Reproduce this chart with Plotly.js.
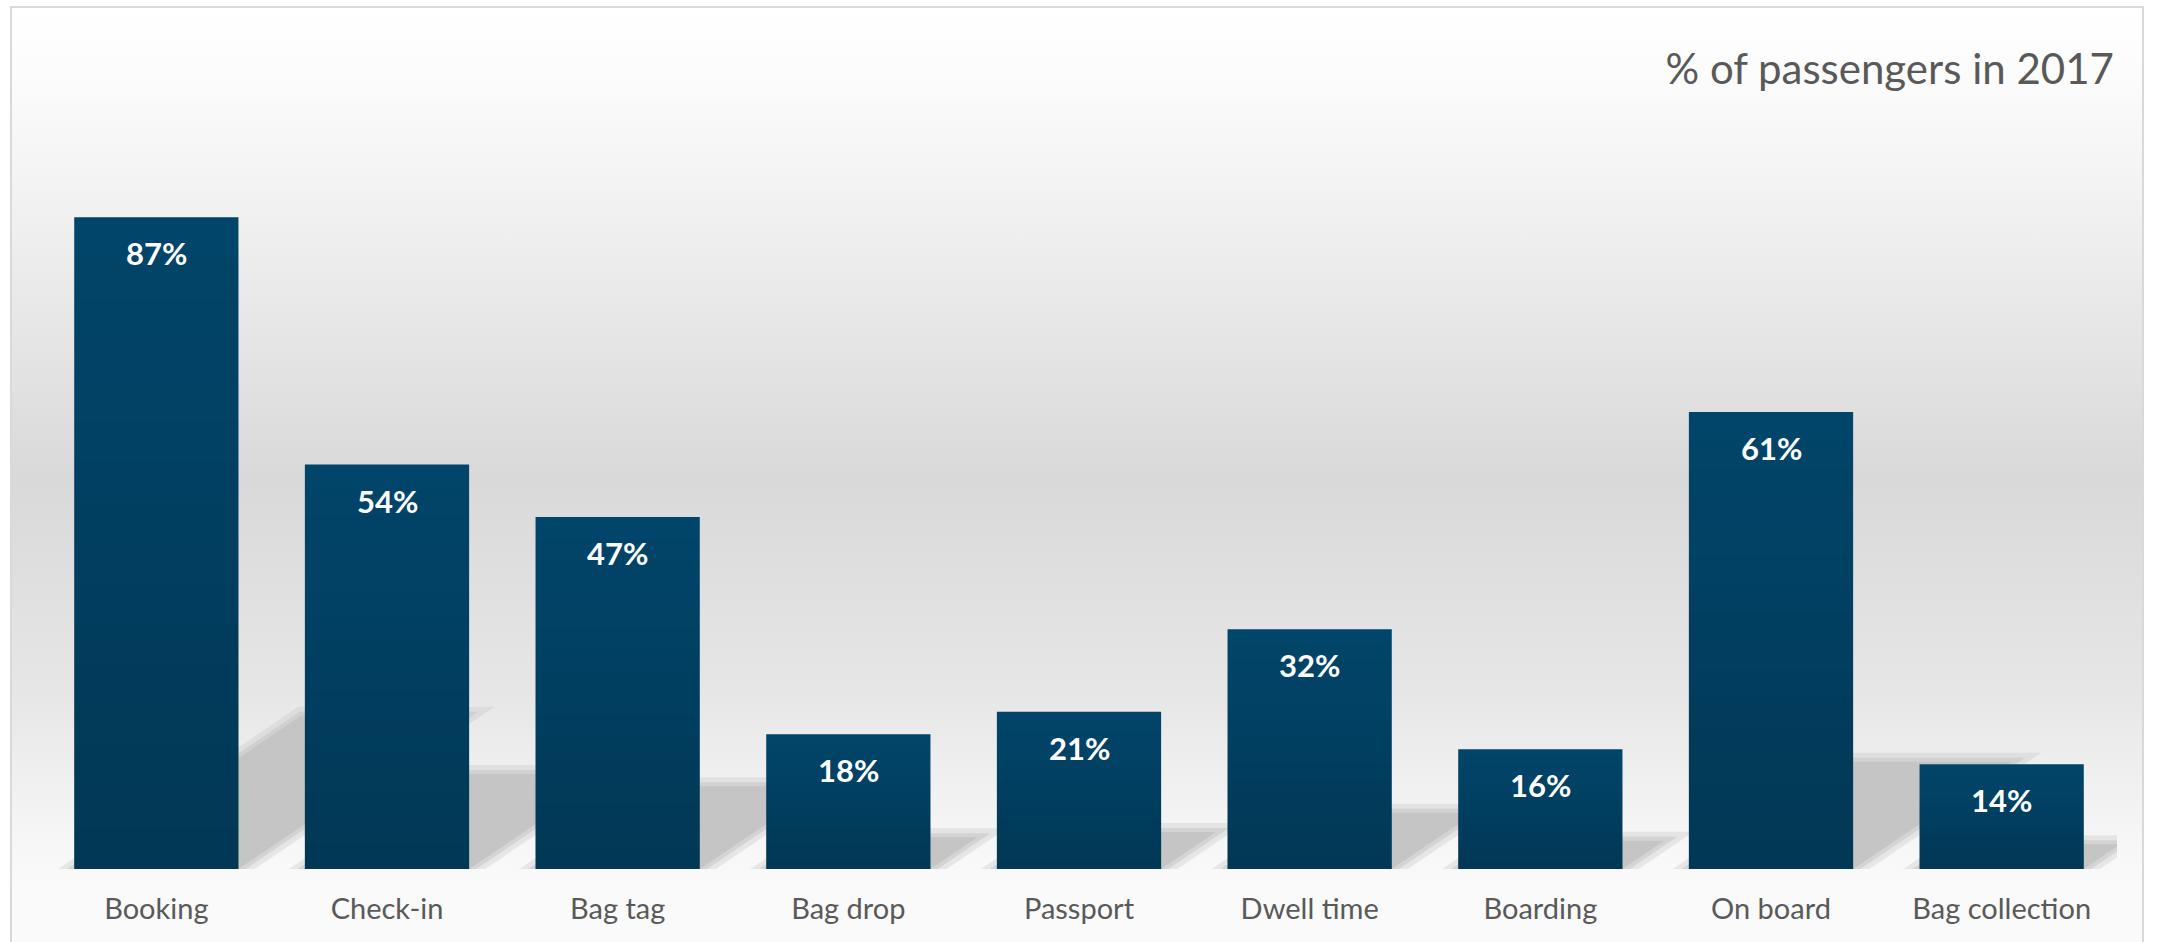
<!DOCTYPE html>
<html>
<head>
<meta charset="utf-8">
<script src="https://cdn.plot.ly/plotly-3.0.1.min.js"></script>
<style>
  html, body { margin: 0; padding: 0; background: #ffffff; }
  #wrap { position: relative; width: 2157px; height: 942px; overflow: hidden; background: #ffffff; }
  #frame {
    position: absolute; left: 10px; top: 6px; width: 2134px; height: 980px;
    border: 2px solid #d9d9d9; box-sizing: border-box;
    background: linear-gradient(to bottom, #ffffff 0px, #fbfbfb 80px, #f1f1f1 200px, #d9d9d9 470px, #e6e6e6 680px, #f7f7f7 840px, #fafafa 880px, #fafafa 980px);
  }
  #chart { position: absolute; left: 0; top: 0; width: 2157px; height: 942px; }
</style>
</head>
<body>
<div id="wrap">
  <div id="frame"></div>
  <div id="chart"></div>
</div>
<script>
// ---- data ----
const categories = ['Booking', 'Check-in', 'Bag tag', 'Bag drop', 'Passport', 'Dwell time', 'Boarding', 'On board', 'Bag collection'];
const values = [87, 54, 47, 18, 21, 32, 16, 61, 14];
const valueLabels = ['87%', '54%', '47%', '18%', '21%', '32%', '16%', '61%', '14%'];
const chartTitle = '% of passengers in 2017';

// ---- styling ----
const barColor = '#02466b';
const textGray = '#595959';
const barWidth = 0.712;
const positions = categories.map((c, i) => i);

const shapes = [];

// decorative cast shadows derived from each bar (soft edged)
const shadowRatio = 0.235;       // shadow height relative to bar height
const shadowSkew = 0.0113;       // horizontal offset (category units) per value unit
values.forEach((v, i) => {
  const h = v * shadowRatio;
  const dx = v * shadowSkew;
  const x0 = i - barWidth / 2, x1 = i + barWidth / 2;
  const path = `M ${x0} 0 L ${x1} 0 L ${x1 + dx} ${h} L ${x0 + dx} ${h} Z`;
  shapes.push({
    type: 'path', xref: 'x', yref: 'y', layer: 'below', path: path,
    fillcolor: 'rgba(0,0,0,0)',
    line: { color: 'rgba(197,197,197,0.35)', width: 18 }
  });
  shapes.push({
    type: 'path', xref: 'x', yref: 'y', layer: 'below', path: path,
    fillcolor: '#c5c5c5',
    line: { color: 'rgba(197,197,197,0.55)', width: 8 }
  });
});

// subtle vertical shading on each bar (lighter top, darker bottom)
const bands = 16;
values.forEach((v, i) => {
  const x0 = i - barWidth / 2, x1 = i + barWidth / 2;
  for (let k = 0; k < bands; k++) {
    const yTop = v * (1 - k / bands);
    const yBot = v * (1 - (k + 1) / bands);
    shapes.push({
      type: 'rect', xref: 'x', yref: 'y', layer: 'above',
      x0: x0, x1: x1, y0: yBot, y1: yTop,
      fillcolor: `rgba(0,0,0,${(0.2 * (k + 0.5) / bands).toFixed(4)})`,
      line: { width: 0 }
    });
  }
});

const annotations = values.map((v, i) => ({
  x: i, y: v, xref: 'x', yref: 'y',
  text: valueLabels[i], showarrow: false,
  yanchor: 'middle', xanchor: 'center', yshift: -36,
  font: { family: 'Lato, "Open Sans", sans-serif', size: 31, color: '#ffffff', weight: 'bold' }
}));

const trace = {
  type: 'bar',
  x: positions,
  y: values,
  width: barWidth,
  marker: { color: barColor, line: { width: 0 } },
  hoverinfo: 'skip'
};

const layout = {
  width: 2157, height: 942,
  margin: { l: 41, r: 40, t: 120, b: 73, pad: 0 },
  paper_bgcolor: 'rgba(0,0,0,0)',
  plot_bgcolor: 'rgba(0,0,0,0)',
  showlegend: false,
  title: {
    text: chartTitle,
    x: 0.980, xanchor: 'right', xref: 'container',
    y: 0.926, yanchor: 'middle', yref: 'container',
    font: { family: 'Lato, "Open Sans", sans-serif', size: 42, color: textGray }
  },
  xaxis: {
    type: 'linear',
    range: [-0.5, categories.length - 0.5],
    tickvals: positions,
    ticktext: categories,
    ticks: '',
    showgrid: false, zeroline: false, showline: false,
    ticklabelstandoff: 20,
    tickfont: { family: 'Lato, "Open Sans", sans-serif', size: 29, color: textGray },
    fixedrange: true
  },
  yaxis: {
    range: [0, 100],
    visible: false,
    showgrid: false, zeroline: false,
    fixedrange: true
  },
  shapes: shapes,
  annotations: annotations
};

Plotly.newPlot('chart', [trace], layout, { displayModeBar: false, staticPlot: true });
</script>
</body>
</html>
